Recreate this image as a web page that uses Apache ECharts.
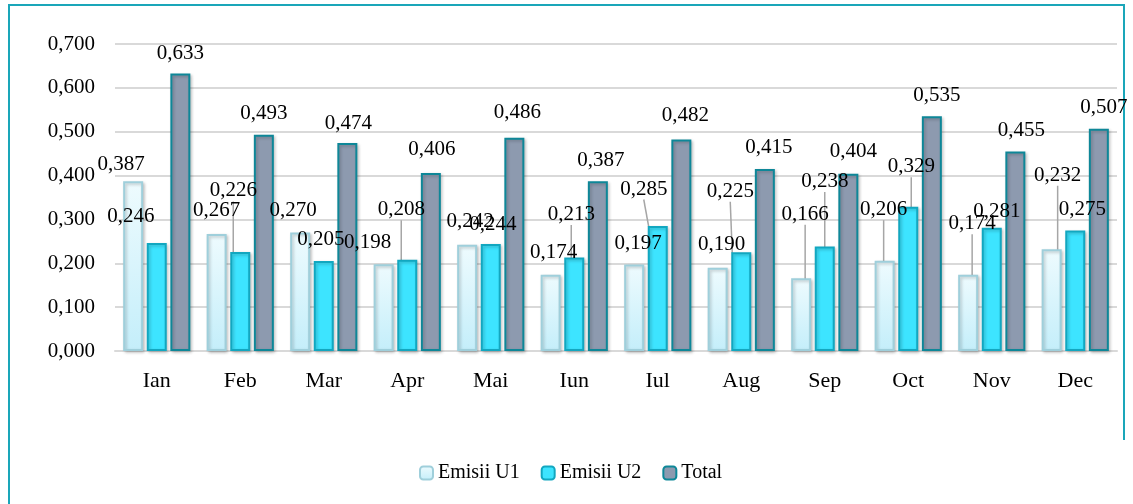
<!DOCTYPE html>
<html>
<head>
<meta charset="utf-8">
<script src="https://cdn.jsdelivr.net/npm/echarts@6/dist/echarts.min.js"></script>
<style>
html,body{margin:0;padding:0;background:#fff;}
#chart{width:1133px;height:504px;}
</style>
</head>
<body>
<div id="chart"></div>
<script>
const categories = ['Ian','Feb','Mar','Apr','Mai','Iun','Iul','Aug','Sep','Oct','Nov','Dec'];
const emisiiU1 = [0.387,0.267,0.270,0.198,0.242,0.174,0.197,0.190,0.166,0.206,0.174,0.232];
const emisiiU2 = [0.246,0.226,0.205,0.208,0.244,0.213,0.285,0.225,0.238,0.329,0.281,0.275];
const total    = [0.633,0.493,0.474,0.406,0.486,0.387,0.482,0.415,0.404,0.535,0.455,0.507];
const seriesNames = ['Emisii U1','Emisii U2','Total'];

// label nudges (dx, dy) mimicking the original label placement; leader = draw guide line
const offU1 = [[-12,1],[0,-5],[-7,-4],[-16,-4],[3,-5],[3,-4],[4,-3],[4,-5],[4,-46],[-1,-33],[4,-33],[6,-56]];
const leadU1 = [0,0,0,0,0,0,0,0,1,1,1,1];
const offU2 = [[-26,-9],[-7,-43],[-3,-4],[-6,-32],[2,-2],[-3,-25],[-14,-19],[-11,-43],[0,-47],[3,-22],[5,2],[7,-3]];
const leadU2 = [0,1,0,1,0,1,1,1,1,1,0,0];
const offT = [[0,-2],[0,-3],[1,-2],[1,-5],[3,-7],[3,-3],[4,-6],[4,-4],[5,-4],[5,-3],[6,-3],[5,-3]];
const leadT = [0,0,0,0,0,0,0,0,0,0,0,0];

const FONT = 'Liberation Serif';
const fmt = v => Number(v).toFixed(3).replace('.', ',');

function mkData(vals, leads){
  return vals.map((v,i)=>({value:v, labelLine:{show:!!leads[i]}}));
}
function mkSeries(idx, vals, leads, offs, itemStyle){
  return {
    name: seriesNames[idx], type:'bar', barWidth:20, barGap:'18%',
    data: mkData(vals, leads),
    itemStyle: itemStyle,
    label:{show:true, position:'top', distance:8, formatter:p=>fmt(p.value),
      fontFamily:FONT, fontSize:21, lineHeight:20, color:'#000'},
    labelLine:{show:false, lineStyle:{color:'#a6a6a6', width:1.5}},
    labelLayout: p => ({dx: offs[p.dataIndex][0], dy: offs[p.dataIndex][1]}),
    emphasis:{disabled:true}
  };
}
const shadow = {shadowColor:'rgba(0,0,0,0.22)', shadowBlur:3, shadowOffsetX:1.5, shadowOffsetY:1.5};

const chart = echarts.init(document.getElementById('chart'), null, {renderer:'canvas'});
chart.setOption({
  animation:false,
  backgroundColor:'#fff',
  graphic:[
    {type:'polyline', shape:{points:[[9,504],[9,5],[1124,5],[1124,440]]}, style:{stroke:'#1aa6b9', lineWidth:2, fill:null}, silent:true}
  ],
  grid:{left:115, right:16, top:44, bottom:153},
  legend:{
    left:414, top:458, itemWidth:13, itemHeight:13, itemGap:21,
    textStyle:{fontFamily:FONT, fontSize:20, lineHeight:20, color:'#000'},
    data: seriesNames
  },
  xAxis:{
    type:'category', data:categories,
    axisLine:{show:true, lineStyle:{color:'#d9d9d9', width:2}},
    axisTick:{show:false},
    axisLabel:{fontFamily:FONT, fontSize:22, color:'#000', margin:19}
  },
  yAxis:{
    type:'value', min:0, max:0.7, interval:0.1,
    axisLine:{show:false}, axisTick:{show:false},
    splitLine:{lineStyle:{color:'#d9d9d9', width:2}},
    axisLabel:{fontFamily:FONT, fontSize:21, color:'#000', margin:20, formatter:v=>fmt(v)}
  },
  series:[
    mkSeries(0, emisiiU1, leadU1, offU1, Object.assign({
      color:{type:'linear', x:0, y:0, x2:0, y2:1, colorStops:[{offset:0,color:'#eefbfe'},{offset:1,color:'#c4eefa'}]},
      borderColor:'#9fcfdb', borderWidth:2}, shadow)),
    mkSeries(1, emisiiU2, leadU2, offU2, Object.assign({
      color:'#3de4ff', borderColor:'#12a7c0', borderWidth:2}, shadow)),
    mkSeries(2, total, leadT, offT, Object.assign({
      color:'#8d9aaf', borderColor:'#0e8798', borderWidth:2}, shadow))
  ]
});
</script>
</body>
</html>
